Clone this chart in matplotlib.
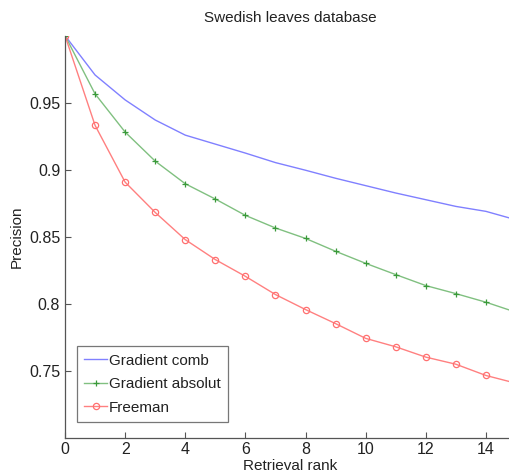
import matplotlib
matplotlib.use("Agg")
import matplotlib.pyplot as plt

plt.rcParams['font.family'] = ['Liberation Sans', 'DejaVu Sans']

rank = list(range(16))
grad_comb = [1.0, 0.9706, 0.952, 0.937, 0.9257, 0.919, 0.9123, 0.9052, 0.8995,
             0.8935, 0.888, 0.8825, 0.8775, 0.8725, 0.8688, 0.8625]
grad_abs = [1.0, 0.9565, 0.928, 0.9063, 0.8894, 0.878, 0.8658, 0.8564, 0.8486,
            0.839, 0.830, 0.8216, 0.8134, 0.8074, 0.801, 0.7935]
freeman = [1.0, 0.933, 0.8906, 0.868, 0.8477, 0.8328, 0.8203, 0.8067, 0.7955,
           0.785, 0.774, 0.7677, 0.760, 0.7547, 0.7463, 0.7405]

fig = plt.figure(figsize=(5.09, 4.73), dpi=100)
ax = fig.add_axes([65 / 509, (473 - 437.5) / 473, 451 / 509, (437.5 - 35.6) / 473])

ax.plot(rank, grad_comb, color='#8080ff', lw=1.0, label='Gradient comb')
ax.plot(rank, grad_abs, color='#80c080', lw=1.0, marker='+', ms=4,
        mec='#3a9a3a', mew=0.9, label='Gradient absolut')
ax.plot(rank, freeman, color='#ff8080', lw=1.0, marker='o', ms=4.5,
        mfc='none', mec='#ff7070', mew=0.9, label='Freeman')

ax.set_xlim(0, 15)
ax.set_ylim(0.70, 1.0)
ax.set_xticks(range(0, 16, 2))
ax.set_yticks([0.75, 0.8, 0.85, 0.9, 0.95])
ax.set_yticklabels(['0.75', '0.8', '0.85', '0.9', '0.95'])
ax.tick_params(direction='in', length=4, width=0.8, labelsize=11.5,
               colors='#555555', labelcolor='#222222')
for s in ['top', 'right']:
    ax.spines[s].set_visible(False)
for s in ['left', 'bottom']:
    ax.spines[s].set_color('#555555')
    ax.spines[s].set_linewidth(0.9)

ax.set_title('Swedish leaves database', fontsize=11, color='#222222', pad=10)
ax.set_xlabel('Retrieval rank', fontsize=11, color='#222222', labelpad=1)
ax.set_ylabel('Precision', fontsize=11, color='#222222', labelpad=4)

leg = ax.legend(loc='lower left', bbox_to_anchor=(0.026, 0.038), fontsize=11,
                frameon=True, fancybox=False, borderpad=0.5, labelspacing=0.62,
                handlelength=1.5, handletextpad=0.1, borderaxespad=0)
leg.get_frame().set_edgecolor('#555555')
leg.get_frame().set_linewidth(0.9)
for t in leg.get_texts():
    t.set_color('#222222')

fig.savefig('out.png', dpi=100)
